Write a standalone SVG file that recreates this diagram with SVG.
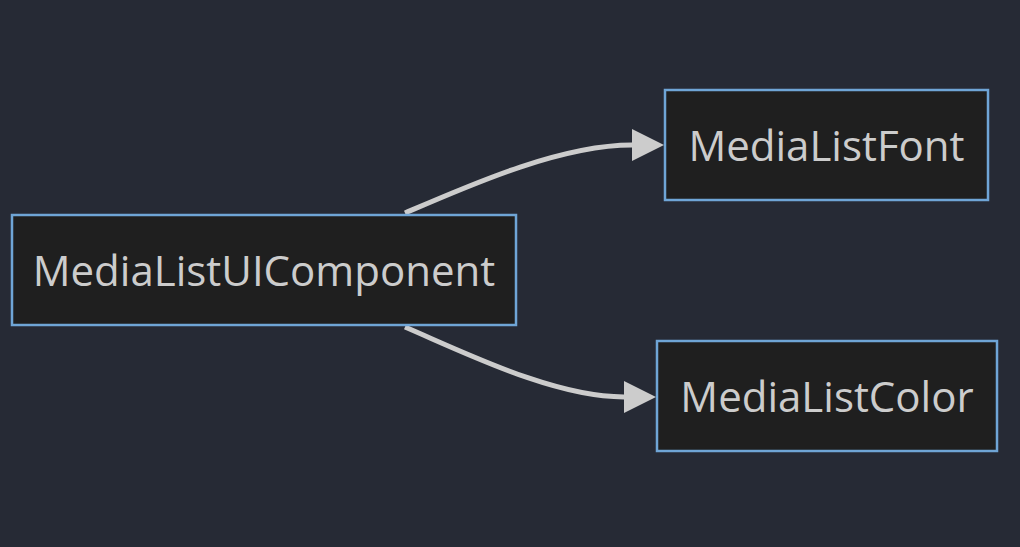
<svg xmlns="http://www.w3.org/2000/svg" width="1020" height="547" viewBox="0 0 1020 547">
<style>
.node rect{fill:#1f1f1f;stroke:#6fa5d6;stroke-width:2.5}
.node text{fill:#cccccc;font-family:"Open Sans","Liberation Sans",sans-serif;font-size:42px;text-anchor:middle;dominant-baseline:central}
.edge{fill:none;stroke:#cccccc;stroke-width:5}
</style>
<defs>
<marker id="arrow" viewBox="0 0 10 10" refX="0" refY="5" markerUnits="userSpaceOnUse" markerWidth="32" markerHeight="34" orient="auto">
<path d="M0,0 L10,5 L0,10 z" fill="#cccccc"/>
</marker>
</defs>
<rect width="1020" height="547" fill="#262a35"/>
<g id="connectors">
<path class="edge" d="M405,213 C470,185 560,145 632,145" marker-end="url(#arrow)"/>
<path class="edge" d="M405,327 C470,355 555,397 624,397" marker-end="url(#arrow)"/>
</g>
<g id="MediaListUIComponent" class="node">
<rect x="12" y="215" width="504" height="110"/>
<text x="264" y="269">MediaListUIComponent</text>
</g>
<g id="MediaListFont" class="node">
<rect x="665" y="90" width="323" height="110"/>
<text x="826.5" y="144">MediaListFont</text>
</g>
<g id="MediaListColor" class="node">
<rect x="657" y="341" width="340" height="110"/>
<text x="827" y="395">MediaListColor</text>
</g>
</svg>
